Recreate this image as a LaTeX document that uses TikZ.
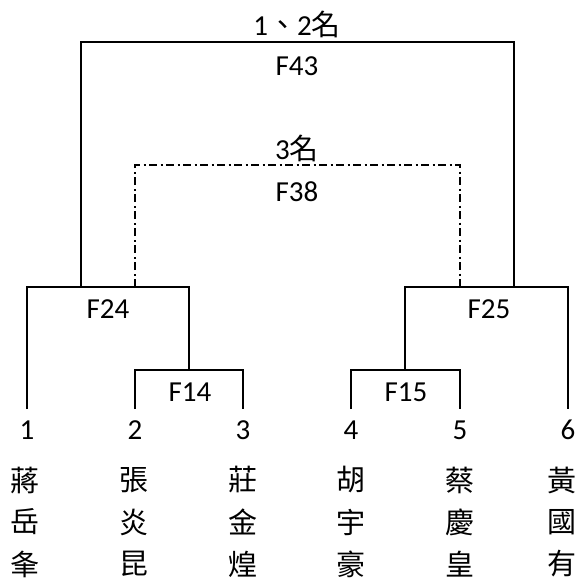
\documentclass[tikz,border=0pt]{standalone}
\usepackage{fontspec}
\setmainfont{Carlito}
\newfontfamily\cjk{Noto Sans CJK TC}
\begin{document}
\begin{tikzpicture}[x=1pt,y=-1pt,
  bline/.style={line width=2pt},
  dline/.style={line width=2pt, dash pattern=on 8pt off 3.5pt on 2pt off 3.5pt},
  lbl/.style={font=\fontsize{29}{33}\selectfont, inner sep=0pt},
  nm/.style={font=\cjk\fontsize{29}{33}\selectfont, inner sep=0pt}]
\useasboundingbox (0,0) rectangle (579,582);
% player columns
\foreach \i/\x in {1/27,2/135,3/243,4/351,5/460,6/568}{
  \coordinate (b\i) at (\x,409);
  \node[lbl] (n\i) at (\x,430) {\i};
}
\foreach \i/\x/\a/\b/\c in {1/25/蔣/岳/夆,2/134/張/炎/昆,3/243/莊/金/煌,4/351/胡/宇/豪,5/460/蔡/慶/皇,6/562/黃/國/有}{
  \node[nm] (m\i a) at (\x,480) {\a};
  \node[nm] (m\i b) at (\x,522) {\b};
  \node[nm] (m\i c) at (\x,564) {\c};
}
% F14
\coordinate (f14l) at (135,370);
\coordinate (f14r) at (243,370);
\coordinate (f14c) at (189,370);
\draw[bline] (b2) -- (f14l) -- (f14r) -- (b3);
\node[lbl] (F14) at (190,392) {F14};
% F15
\coordinate (f15l) at (351,370);
\coordinate (f15r) at (460,370);
\coordinate (f15c) at (405,370);
\draw[bline] (b4) -- (f15l) -- (f15r) -- (b5);
\node[lbl] (F15) at (406,392) {F15};
% F24
\coordinate (f24l) at (27,287);
\coordinate (f24r) at (189,287);
\draw[bline] (b1) -- (f24l) -- (f24r) -- (f14c);
\node[lbl] (F24) at (108,309) {F24};
% F25
\coordinate (f25l) at (405,287);
\coordinate (f25r) at (568,287);
\draw[bline] (f15c) -- (f25l) -- (f25r) -- (b6);
\node[lbl] (F25) at (489,309) {F25};
% F43
\coordinate (f43a) at (81,287);
\coordinate (f43b) at (514,287);
\coordinate (f43l) at (81,42);
\coordinate (f43r) at (514,42);
\draw[bline] (f43a) -- (f43l) -- (f43r) -- (f43b);
\node[lbl] (F43) at (297,66) {F43};
\node[lbl, anchor=base] (T12) at (297,35) {1{\cjk 、}2{\cjk 名}};
% F38
\coordinate (f38a) at (135,287);
\coordinate (f38b) at (460,287);
\coordinate (f38l) at (135,165);
\coordinate (f38r) at (460,165);
\draw[dline] (f38a) -- (f38l) -- (f38r) -- (f38b);
\node[lbl] (F38) at (297,192) {F38};
\node[lbl, anchor=base] (T3) at (297,159) {3{\cjk 名}};
\end{tikzpicture}
\end{document}
